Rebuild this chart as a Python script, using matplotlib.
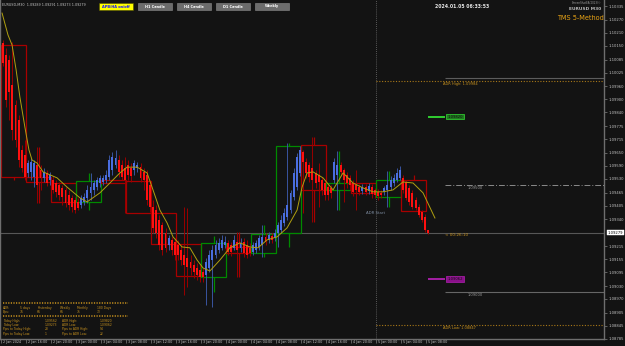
import matplotlib

matplotlib.use("Agg")
import matplotlib.pyplot as plt
import numpy as np
from matplotlib.lines import Line2D
from matplotlib.patches import Rectangle
from matplotlib.transforms import ScaledTranslation, blended_transform_factory

W, H = 625, 346
BG = "#131313"
AXIS = "#6e6e6e"
TXT = "#c4c4c4"
GOLD = "#c8921e"
RED = "#ff1010"
BLUE = "#4a6ee0"
RED_WICK = "#9a0000"
BLUE_WICK = "#3a55a0"
BOX_RED = "#a80000"
BOX_GREEN = "#008a00"
MA_COL = "#b0a010"

# M30 candles (EURUSD)
opens = [
    1.10163, 1.10107, 1.10083, 1.09967, 1.09874, 1.09804, 1.09664, 1.09641,
    1.09557, 1.09562, 1.09538, 1.09594, 1.09571, 1.09534, 1.09557, 1.09524,
    1.09524, 1.09510, 1.09501, 1.09487, 1.09478, 1.09455, 1.09441, 1.09431,
    1.09422, 1.09408, 1.09422, 1.09441, 1.09464, 1.09478, 1.09491, 1.09510,
    1.09515, 1.09524, 1.09538, 1.09571, 1.09594, 1.09617, 1.09594, 1.09580,
    1.09594, 1.09580, 1.09571, 1.09580, 1.09584, 1.09562, 1.09548, 1.09501,
    1.09398, 1.09384, 1.09338, 1.09315, 1.09277, 1.09222, 1.09245, 1.09236,
    1.09222, 1.09198, 1.09175, 1.09161, 1.09142, 1.09128, 1.09114, 1.09105,
    1.09096, 1.09082, 1.09114, 1.09151, 1.09175, 1.09198, 1.09208, 1.09222,
    1.09231, 1.09222, 1.09208, 1.09236, 1.09208, 1.09236, 1.09222, 1.09208,
    1.09189, 1.09198, 1.09212, 1.09222, 1.09259, 1.09245, 1.09263, 1.09254,
    1.09277, 1.09291, 1.09324, 1.09351, 1.09384, 1.09445, 1.09491, 1.09557,
    1.09655, 1.09608, 1.09594, 1.09580, 1.09557, 1.09548, 1.09524, 1.09510,
    1.09491, 1.09487, 1.09524, 1.09548, 1.09594, 1.09571, 1.09548, 1.09534,
    1.09510, 1.09501, 1.09491, 1.09473, 1.09491, 1.09473, 1.09491, 1.09478,
    1.09469, 1.09464, 1.09469, 1.09478, 1.09491, 1.09510, 1.09524, 1.09534,
    1.09534, 1.09515, 1.09487, 1.09464, 1.09431, 1.09398, 1.09375, 1.09352,
    1.09289,
]
highs = [
    1.10177, 1.10140, 1.10107, 1.10168, 1.09897, 1.09827, 1.09688, 1.09711,
    1.09617, 1.09627, 1.09617, 1.09678, 1.09594, 1.09580, 1.09571, 1.09562,
    1.09543, 1.09524, 1.09515, 1.09501, 1.09491, 1.09478, 1.09455, 1.09445,
    1.09441, 1.09455, 1.09464, 1.09501, 1.09557, 1.09524, 1.09538, 1.09548,
    1.09548, 1.09571, 1.09641, 1.09655, 1.09664, 1.09641, 1.09617, 1.09631,
    1.09617, 1.09603, 1.09617, 1.09608, 1.09603, 1.09580, 1.09571, 1.09524,
    1.09431, 1.09408, 1.09361, 1.09329, 1.09301, 1.09268, 1.09258, 1.09254,
    1.09245, 1.09222, 1.09398, 1.09394, 1.09175, 1.09151, 1.09137, 1.09128,
    1.09114, 1.09161, 1.09198, 1.09222, 1.09245, 1.09254, 1.09268, 1.09263,
    1.09245, 1.09236, 1.09268, 1.09282, 1.09254, 1.09254, 1.09245, 1.09231,
    1.09236, 1.09245, 1.09268, 1.09315, 1.09277, 1.09282, 1.09277, 1.09296,
    1.09329, 1.09361, 1.09394, 1.09697, 1.09478, 1.09580, 1.09650, 1.09683,
    1.09664, 1.09627, 1.09608, 1.09724, 1.09571, 1.09603, 1.09538, 1.09524,
    1.09505, 1.09501, 1.09627, 1.09659, 1.09608, 1.09580, 1.09562, 1.09548,
    1.09524, 1.09571, 1.09505, 1.09505, 1.09505, 1.09510, 1.09505, 1.09487,
    1.09482, 1.09478, 1.09496, 1.09566, 1.09543, 1.09552, 1.09580, 1.09589,
    1.09548, 1.09524, 1.09501, 1.09478, 1.09445, 1.09412, 1.09384, 1.09366,
    1.09291,
]
lows = [
    1.10055, 1.09864, 1.09804, 1.09711, 1.09678, 1.09584, 1.09562, 1.09524,
    1.09538, 1.09524, 1.09491, 1.09417, 1.09478, 1.09515, 1.09496, 1.09501,
    1.09464, 1.09445, 1.09431, 1.09408, 1.09398, 1.09384, 1.09375, 1.09370,
    1.09384, 1.09394, 1.09408, 1.09417, 1.09431, 1.09455, 1.09478, 1.09491,
    1.09501, 1.09510, 1.09524, 1.09548, 1.09580, 1.09538, 1.09524, 1.09370,
    1.09524, 1.09515, 1.09548, 1.09562, 1.09515, 1.09478, 1.09408, 1.09375,
    1.09277, 1.09254, 1.09198, 1.09175, 1.09189, 1.09198, 1.09175, 1.09151,
    1.09151, 1.09128, 1.08989, 1.09025, 1.09082, 1.09068, 1.09058, 1.09049,
    1.09049, 1.08942, 1.09096, 1.08932, 1.09161, 1.09184, 1.09198, 1.09208,
    1.09175, 1.09170, 1.09198, 1.09072, 1.09189, 1.09165, 1.09161, 1.09170,
    1.09175, 1.09184, 1.09198, 1.09165, 1.09222, 1.09231, 1.09231, 1.09240,
    1.09212, 1.09277, 1.09310, 1.09338, 1.09370, 1.09431, 1.09478, 1.09543,
    1.09370, 1.09534, 1.09515, 1.09329, 1.09487, 1.09398, 1.09455, 1.09431,
    1.09431, 1.09441, 1.09510, 1.09384, 1.09543, 1.09422, 1.09487, 1.09478,
    1.09450, 1.09384, 1.09455, 1.09459, 1.09455, 1.09459, 1.09441, 1.09441,
    1.09431, 1.09441, 1.09455, 1.09398, 1.09478, 1.09496, 1.09515, 1.09524,
    1.09464, 1.09431, 1.09408, 1.09389, 1.09384, 1.09352, 1.09329, 1.09282,
    1.09273,
]
closes = [
    1.10069, 1.09897, 1.09935, 1.09757, 1.09711, 1.09617, 1.09580, 1.09538,
    1.09603, 1.09608, 1.09603, 1.09501, 1.09534, 1.09562, 1.09510, 1.09548,
    1.09478, 1.09469, 1.09455, 1.09445, 1.09417, 1.09408, 1.09398, 1.09384,
    1.09394, 1.09441, 1.09445, 1.09478, 1.09491, 1.09510, 1.09524, 1.09534,
    1.09534, 1.09548, 1.09617, 1.09631, 1.09627, 1.09562, 1.09538, 1.09524,
    1.09548, 1.09543, 1.09603, 1.09594, 1.09534, 1.09524, 1.09431, 1.09398,
    1.09301, 1.09277, 1.09222, 1.09198, 1.09208, 1.09254, 1.09198, 1.09175,
    1.09175, 1.09151, 1.09128, 1.09118, 1.09114, 1.09096, 1.09082, 1.09072,
    1.09072, 1.09142, 1.09175, 1.09198, 1.09222, 1.09231, 1.09245, 1.09236,
    1.09189, 1.09189, 1.09245, 1.09198, 1.09231, 1.09184, 1.09175, 1.09184,
    1.09222, 1.09231, 1.09254, 1.09259, 1.09236, 1.09268, 1.09245, 1.09277,
    1.09315, 1.09338, 1.09370, 1.09408, 1.09464, 1.09557, 1.09631, 1.09664,
    1.09608, 1.09557, 1.09538, 1.09524, 1.09510, 1.09515, 1.09478, 1.09455,
    1.09455, 1.09464, 1.09608, 1.09594, 1.09562, 1.09524, 1.09510, 1.09501,
    1.09469, 1.09478, 1.09469, 1.09491, 1.09469, 1.09496, 1.09459, 1.09455,
    1.09450, 1.09455, 1.09487, 1.09501, 1.09524, 1.09534, 1.09557, 1.09571,
    1.09478, 1.09441, 1.09422, 1.09398, 1.09394, 1.09361, 1.09338, 1.09289,
    1.09279,
]

# H4 candle overlay (outline boxes)
h4_open = [1.10153, 1.09538, 1.09510, 1.09422, 1.09524, 1.09520, 1.09370, 1.09226, 1.09072,
           1.09212, 1.09184, 1.09277, 1.09688, 1.09478, 1.09510, 1.09445, 1.09524]
h4_high = [1.10153, 1.09678, 1.09510, 1.09557, 1.09524, 1.09520, 1.09370, 1.09226, 1.09263,
           1.09282, 1.09315, 1.09697, 1.09724, 1.09659, 1.09510, 1.09566, 1.09548]
h4_low = [1.09524, 1.09417, 1.09422, 1.09384, 1.09510, 1.09370, 1.09226, 1.09077, 1.09003,
          1.09072, 1.09165, 1.09212, 1.09329, 1.09384, 1.09464, 1.09398, 1.09380]
h4_close = [1.09538, 1.09515, 1.09422, 1.09520, 1.09510, 1.09370, 1.09226, 1.09077, 1.09231,
            1.09184, 1.09273, 1.09683, 1.09478, 1.09510, 1.09464, 1.09524, 1.09380]

# moving average, read at bar positions
ma_idx = [-0.3, 1.6, 2.9, 4.2, 5.4, 7.0, 8.3, 9.3, 10.9, 12.8, 17.3, 20.5, 24.6, 26.9,
          31.0, 34.2, 37.4, 39.7, 42.9, 46.1, 48.0, 50.2, 52.5, 54.4, 57.3, 59.8, 62.1,
          64.0, 66.2, 69.4, 72.6, 75.8, 79.0, 81.6, 84.5, 87.7, 90.9, 94.1, 95.7, 97.3,
          99.2, 102.4, 105.6, 108.8, 112.0, 115.2, 118.4, 121.6, 124.8, 128.0, 131.2,
          134.4, 138.2]
ma_price = [1.10302, 1.10200, 1.10153, 1.10037, 1.09911, 1.09771, 1.09664, 1.09617,
            1.09603, 1.09562, 1.09534, 1.09491, 1.09441, 1.09422, 1.09464, 1.09510,
            1.09557, 1.09584, 1.09584, 1.09557, 1.09478, 1.09384, 1.09324, 1.09259,
            1.09212, 1.09208, 1.09151, 1.09114, 1.09100, 1.09151, 1.09208, 1.09231,
            1.09212, 1.09208, 1.09245, 1.09259, 1.09301, 1.09384, 1.09491, 1.09557,
            1.09562, 1.09534, 1.09478, 1.09557, 1.09510, 1.09487, 1.09469, 1.09469,
            1.09478, 1.09515, 1.09510, 1.09464, 1.09347]

time_labels = ["2 Jan 2024", "2 Jan 16:00", "2 Jan 20:00", "3 Jan 00:00", "3 Jan 04:00",
               "3 Jan 08:00", "3 Jan 12:00", "3 Jan 16:00", "3 Jan 20:00", "4 Jan 00:00",
               "4 Jan 04:00", "4 Jan 08:00", "4 Jan 12:00", "4 Jan 16:00", "4 Jan 20:00",
               "5 Jan 00:00", "5 Jan 04:00", "5 Jan 08:00"]
price_ticks = [1.10335, 1.10270, 1.10210, 1.10150, 1.10085, 1.10025, 1.09960, 1.09900,
               1.09840, 1.09775, 1.09715, 1.09650, 1.09590, 1.09530, 1.09465, 1.09405,
               1.09340, 1.09215, 1.09155, 1.09095, 1.09030, 1.08970, 1.08905, 1.08845,
               1.08785]

current = 1.09279
day_start = 119.5
adr_high, adr_low = 1.09984, 1.08847
target_up, target_dn = 1.09820, 1.09062
round_levels = [1.10000, 1.09500, 1.09000]

header = "EURUSD,M30  1.09289 1.09291 1.09273 1.09279"
buttons = ["APB/HA on/off", "H1 Candle", "H4 Candle", "D1 Candle", "Weekly"]
adr_heads = ["ADR:", "5 days", "Yesterday", "Weekly", "Monthly", "180 Days"]
adr_pips = ["Pips:", "76", "66", "66", "75", "73"]
panel_rows = [
    ("Today High:", "1.09562", "ADR High:", "1.09820"),
    ("Today Low:", "1.09273", "ADR Low:", "1.09062"),
    ("Pips to Today High:", "28", "Pips to ADR High:", "54"),
    ("Pips to Today Low:", "1", "Pips to ADR Low:", "22"),
]


def fx(px):
    return px / W


def fy(py):
    return 1 - py / H


fig = plt.figure(figsize=(W / 100, H / 100), dpi=100)
fig.patch.set_facecolor(BG)
ax = fig.add_axes([0, fy(339), fx(604), 339 / H])
ax.set_facecolor(BG)
ax.set_xlim(-0.96, 192.3)
ax.set_ylim(1.08783, 1.10363)

# H4 boxes with wicks outside the body
for k, (o, hi, lo, c) in enumerate(zip(h4_open, h4_high, h4_low, h4_close)):
    col = BOX_GREEN if c > o else BOX_RED
    top, bot = max(o, c), min(o, c)
    mid = 8 * k + 3.5
    if hi > top:
        ax.vlines(mid, top, hi, color=col, lw=0.9, zorder=1)
    if lo < bot:
        ax.vlines(mid, lo, bot, color=col, lw=0.9, zorder=1)
    ax.add_patch(Rectangle((8 * k - 0.5, bot), 8, max(top - bot, 0.00002), fill=False,
                           ec=col, lw=0.9, zorder=1.5))

# M30 candles
o = np.array(opens)
hi = np.array(highs)
lo = np.array(lows)
c = np.array(closes)
idx = np.arange(len(o))
up = c > o
ax.vlines(idx[up], lo[up], hi[up], color=BLUE_WICK, lw=0.7, zorder=2)
ax.vlines(idx[~up], lo[~up], hi[~up], color=RED_WICK, lw=0.7, zorder=2)
ax.bar(idx, np.maximum(np.abs(c - o), 0.00003), bottom=np.minimum(o, c), width=0.62,
       color=np.where(up, BLUE, RED), linewidth=0, zorder=3)

ax.plot(ma_idx, ma_price, color=MA_COL, lw=0.7, zorder=4)

# levels
x_end = ax.get_xlim()[1]
ax.axhline(current, color="#575757", lw=0.8, zorder=0.5)
ax.axvline(day_start, color="#707070", lw=0.6, ls=(0, (1, 1.5)), zorder=0.5)
for lvl in (adr_high, adr_low):
    ax.hlines(lvl, day_start, x_end, color="#a87818", lw=0.8, ls=(0, (1, 1.5)), zorder=0.5)
ax.hlines(round_levels[0], 141.5, x_end, color="#5c5c5c", lw=0.8, zorder=0.5)
ax.hlines(round_levels[1], 141.5, x_end, color="#8a8a8a", lw=0.7, ls=(0, (6, 2, 1, 2)), zorder=0.5)
ax.hlines(round_levels[2], 141.5, x_end, color="#666666", lw=0.8, zorder=0.5)
for lvl in round_levels[1:]:
    ax.text(148.8, lvl - 0.00004, f"{lvl:.5f}", color="#9a9a9a", fontsize=2.6, va="top", ha="left")
ax.text(140.8, adr_high - 0.00004, f"ADR High: {adr_high:.5f}", color=GOLD, fontsize=2.6, va="top")
ax.text(140.8, adr_low - 0.00004, f"ADR Low: {adr_low:.5f}", color=GOLD, fontsize=2.6, va="top")
ax.text(141.4, current - 0.00004, "< 00:26:10", color=GOLD, fontsize=3.0, va="top")
ax.text(116.3, 1.09370, "ADR Start", color="#7d8ca0", fontsize=2.8, va="center")

for lvl, lc, fc in ((target_up, "#33dd33", "#1f7a1f"), (target_dn, "#b020b0", "#8a108a")):
    ax.hlines(lvl, 136, 141.5, color=lc, lw=1.3, zorder=4)
    ax.text(142.2, lvl, f"{lvl:.5f}", color="#101010", fontsize=2.7, va="center", ha="left",
            bbox=dict(boxstyle="square,pad=0.25", fc=fc, ec=lc, lw=0.5))

# axes styling
for side in ("left", "right", "bottom"):
    ax.spines[side].set_color(AXIS)
    ax.spines[side].set_linewidth(1.0)
ax.spines["top"].set_visible(False)

ax.yaxis.tick_right()
ax.set_yticks(price_ticks)
ax.set_yticklabels([f"{p:.5f}" for p in price_ticks])
ax.tick_params(axis="y", colors=AXIS, labelcolor=TXT, labelsize=2.7, length=2, width=0.6, pad=1)

ax.set_xticks([8 * k - 0.5 for k in range(len(time_labels))])
ax.set_xticklabels(time_labels, ha="left")
ax.tick_params(axis="x", colors=AXIS, labelcolor=TXT, labelsize=2.4, length=3, width=0.6, pad=-2.6)
shift = ScaledTranslation(1.6 / 100, 0, fig.dpi_scale_trans)
for lbl in ax.get_xticklabels():
    lbl.set_transform(lbl.get_transform() + shift)

trans = blended_transform_factory(ax.transAxes, ax.transData)
ax.text(1.0055, current, f"{current:.5f}", transform=trans, color="black", fontsize=2.7,
        va="center", ha="left", clip_on=False,
        bbox=dict(boxstyle="square,pad=0.2", fc="white", ec="white", lw=0.3))

# header and buttons
fig.text(fx(2), fy(5), header, color=TXT, fontsize=2.4, va="center", ha="left")
for j, name in enumerate(buttons):
    x0 = 99 + 39 * j
    fc, tc, ec = ("#ffff00", "#1010ff", "#505000") if j == 0 else ("#6c6c6c", "#ffffff", "#8a8a8a")
    fig.add_artist(Rectangle((fx(x0), fy(10)), fx(34), 7 / H, transform=fig.transFigure,
                             fc=fc, ec=ec, lw=0.4))
    fig.text(fx(x0 + 17), fy(6.5), name, color=tc, fontsize=2.5, fontweight="bold",
             ha="center", va="center")

fig.text(fx(435), fy(6), "2024.01.05 06:33:53", color="#e8e8e8", fontsize=3.3,
         fontweight="bold", ha="left", va="center")
fig.text(fx(601), fy(3), "ScreenShotEA(2023)\u00a9", color="#9a9a9a", fontsize=1.9,
         ha="right", va="center")
fig.text(fx(601), fy(8.5), "EURUSD M30", color="#b8b8b8", fontsize=3.2, fontweight="bold",
         ha="right", va="center")
fig.text(fx(604), fy(18), "TMS 5-Method", color="#e8a315", fontsize=4.7, ha="right", va="center")

# ADR info panel
for py in (303.3, 316.3):
    fig.add_artist(Line2D([fx(3), fx(128)], [fy(py), fy(py)], transform=fig.transFigure,
                          color=GOLD, lw=1.1, ls=(0, (0.8, 0.9))))
for xs, txt in zip((3, 20, 37, 60, 77, 97), adr_heads):
    fig.text(fx(xs), fy(307.6), txt, color=GOLD, fontsize=2.2, va="center")
for xs, txt in zip((3, 20, 37, 60, 77, 97), adr_pips):
    fig.text(fx(xs), fy(312.3), txt, color=GOLD, fontsize=2.2, va="center")
for r, row in enumerate(panel_rows):
    for xs, txt in zip((3, 45, 62, 100), row):
        fig.text(fx(xs), fy(320.7 + 4.35 * r), txt, color=GOLD, fontsize=2.2, va="center")

fig.savefig("out.png", dpi=100, facecolor=BG)
